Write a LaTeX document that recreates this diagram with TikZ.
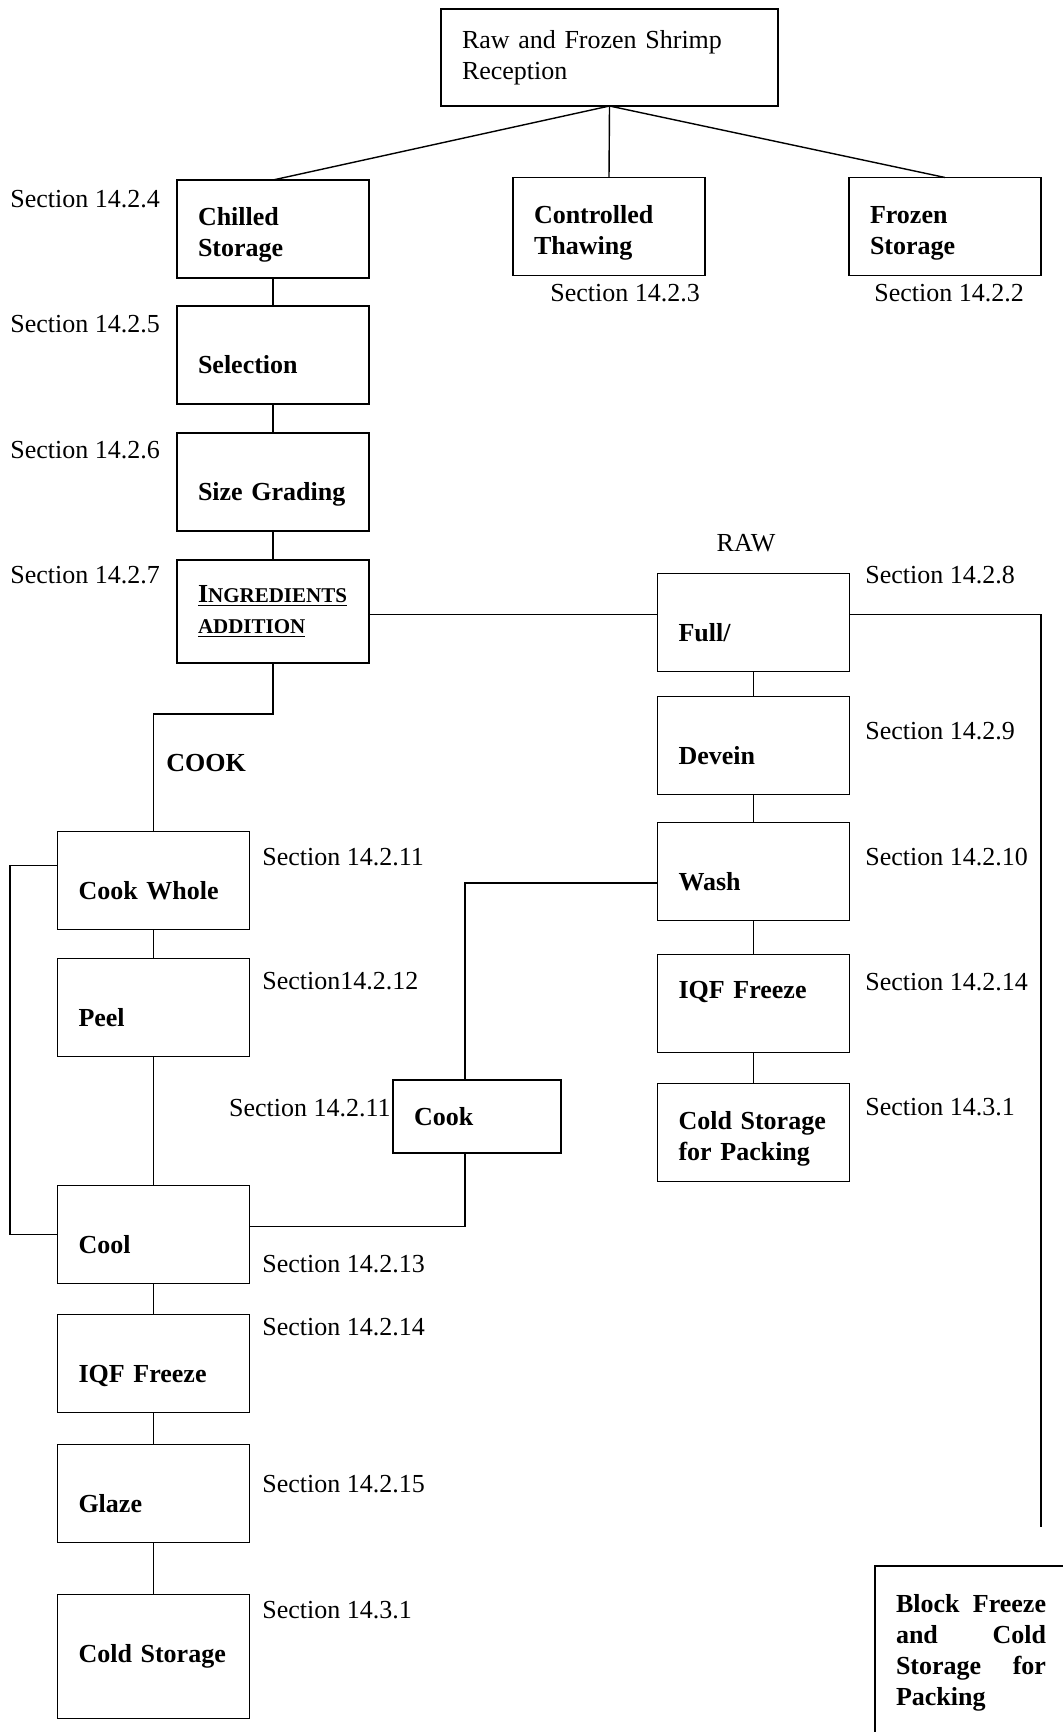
\documentclass[tikz,border=0pt]{standalone}
\usepackage{fontspec}
\setmainfont{Liberation Serif}
\usepackage{tikz}
\usetikzlibrary{positioning,
                calc}
\tikzset{procnode/.style = {
            draw, line width=0.8pt,
            text width=75pt, align=left,
            inner xsep=10.5pt, outer sep=0pt,
            minimum height=49pt,
            font=\fontsize{13}{15.5}\selectfont\bfseries
         },
         headnode/.style = {
            draw, line width=0.8pt,
            text width=147.5pt, align=left,
            inner xsep=10.5pt, outer sep=0pt,
            minimum height=48.5pt,
            font=\fontsize{13}{15.5}\selectfont
         },
         lowtext/.style = {text height=22pt, text depth=3pt},
         hightext/.style = {text height=9pt, text depth=13.6pt},
         sectlabel/.style = {
            anchor=west, inner sep=0pt,
            font=\fontsize{13}{15.5}\selectfont
         },
         link/.style = {line width=0.7pt}
        }
\newcommand{\fakesc}[1]{{\fontsize{10.5}{12}\selectfont #1}}
\newcommand{\firstgap}{\rule{0pt}{15pt}}

\begin{document}
\begin{tikzpicture}
    \useasboundingbox (0,0) rectangle (531.5pt,-866pt);
    \clip (0,0) rectangle (531.5pt,-866pt);

    % reception and the three storage branches
    \node[headnode] (reception) at (304.75pt,-28.75pt) {Raw and Frozen Shrimp\\Reception};
    \node[procnode] (chilled) at (136.5pt,-114.5pt) {\firstgap Chilled\\Storage};
    \node[procnode] (thawing) at (304.5pt,-113.25pt) {\firstgap Controlled\\Thawing};
    \node[procnode] (frozen) at (472.5pt,-113.25pt) {\firstgap Frozen\\Storage};

    % chilled line
    \node[procnode,lowtext,below=14pt of chilled] (selection) {Selection};
    \node[procnode,lowtext,below=14.5pt of selection] (grading) {Size Grading};
    \node[procnode,below=14.5pt of grading,minimum height=51.5pt] (ingredients)
        {\underline{I\fakesc{NGREDIENTS}}\\\underline{\fakesc{ADDITION}}};

    % raw line
    \node[procnode,lowtext] (full) at (376.75pt,-311.25pt) {Full/};
    \node[procnode,lowtext,below=12.5pt of full] (devein) {Devein};
    \node[procnode,lowtext,below=14pt of devein] (wash) {Wash};
    \node[procnode,hightext,below=17pt of wash] (iqfraw) {IQF Freeze};
    \node[procnode,below=15.5pt of iqfraw] (coldpack) {\firstgap Cold Storage\\for Packing};

    % cook line
    \node[procnode,lowtext] (cookwhole) at (76.75pt,-440.25pt) {Cook Whole};
    \node[procnode,lowtext,below=14.5pt of cookwhole] (peel) {Peel};
    \node[procnode,lowtext,below=64.5pt of peel] (cool) {Cool};
    \node[procnode,lowtext,below=15.5pt of cool] (iqfcook) {IQF Freeze};
    \node[procnode,lowtext,below=16pt of iqfcook] (glaze) {Glaze};
    \node[procnode,below=26pt of glaze,minimum height=62pt] (coldstore) {Cold Storage};
    \node[procnode,text width=63pt,minimum height=36.5pt] (cook) at (238.5pt,-558.25pt) {Cook};

    \node[procnode,anchor=north west,minimum height=0pt,inner ysep=14pt] (block) at (437.5pt,-783pt)
        {Block\hfill Freeze\\and\hfill Cold\\Storage\hfill for\\Packing};

    % labels
    \node[sectlabel] (s224) at (5pt,-99.5pt) {Section 14.2.4};
    \node[sectlabel] (s225) at (5pt,-162pt) {Section 14.2.5};
    \node[sectlabel] (s226) at (5pt,-225pt) {Section 14.2.6};
    \node[sectlabel] (s227) at (5pt,-287.5pt) {Section 14.2.7};
    \node[sectlabel] (s223) at (275pt,-146.5pt) {Section 14.2.3};
    \node[sectlabel] (s222) at (437pt,-146.5pt) {Section 14.2.2};
    \node[sectlabel,anchor=center] (rawlabel) at (373pt,-271.5pt) {RAW};
    \node[sectlabel] (s228) at (432.5pt,-287.5pt) {Section 14.2.8};
    \node[sectlabel] (s229) at (432.5pt,-365.5pt) {Section 14.2.9};
    \node[sectlabel] (s2210) at (432.5pt,-428.5pt) {Section 14.2.10};
    \node[sectlabel] (s2214r) at (432.5pt,-491pt) {Section 14.2.14};
    \node[sectlabel] (s231r) at (432.5pt,-553.5pt) {Section 14.3.1};
    \node[sectlabel,font=\fontsize{13}{15.5}\selectfont\bfseries] (cooklabel) at (83pt,-381.5pt) {COOK};
    \node[sectlabel] (s2211) at (131pt,-428.5pt) {Section 14.2.11};
    \node[sectlabel] (s2212) at (131pt,-490.5pt) {Section14.2.12};
    \node[sectlabel,anchor=east] (s2211b) at (195.5pt,-554pt) {Section 14.2.11};
    \node[sectlabel] (s2213) at (131pt,-632pt) {Section 14.2.13};
    \node[sectlabel] (s2214) at (131pt,-663.5pt) {Section 14.2.14};
    \node[sectlabel] (s2215) at (131pt,-742pt) {Section 14.2.15};
    \node[sectlabel] (s231) at (131pt,-805pt) {Section 14.3.1};

    % connectors
    \coordinate (rawend) at (520.5pt,-763.5pt);
    \coordinate (washjoin) at (232.5pt,-441.5pt);
    \coordinate (rawjoin) at ($(ingredients.east)+(0,-1.5pt)$);

    \draw[link] (reception.south) -- (chilled.north);
    \draw[link] (reception.south) -- (thawing.north);
    \draw[link] (reception.south) -- (frozen.north);

    \draw[link] (chilled.south) -- (selection.north);
    \draw[link] (selection.south) -- (grading.north);
    \draw[link] (grading.south) -- (ingredients.north);
    \draw[link] (rawjoin) -- (rawjoin -| full.west);
    \draw[link] (rawjoin -| full.east) -| (rawend);
    \draw[link] (ingredients.south) -- ++(0,-25.5pt) -| (cookwhole.north);

    \draw[link] (full.south) -- (devein.north);
    \draw[link] (devein.south) -- (wash.north);
    \draw[link] (wash.south) -- (iqfraw.north);
    \draw[link] (iqfraw.south) -- (coldpack.north);
    \draw[link] (wash.west |- washjoin) -- (washjoin) -- (washjoin |- cook.north);
    \draw[link] (washjoin |- cook.south) |- ($(cool.east)+(0,4pt)$);

    \draw[link] ($(cookwhole.west)+(0,7.5pt)$) -- ++(-23.75pt,0) |- (cool.west);
    \draw[link] (cookwhole.south) -- (peel.north);
    \draw[link] (peel.south) -- (cool.north);
    \draw[link] (cool.south) -- (iqfcook.north);
    \draw[link] (iqfcook.south) -- (glaze.north);
    \draw[link] (glaze.south) -- (coldstore.north);
\end{tikzpicture}
\end{document}
